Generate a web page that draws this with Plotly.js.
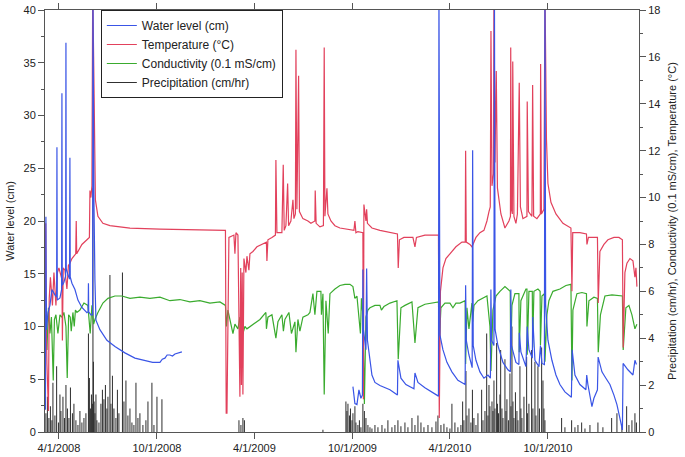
<!DOCTYPE html>
<html>
<head>
<meta charset="utf-8">
<script src="https://cdn.plot.ly/plotly-3.0.1.min.js"></script>
<style>html,body{margin:0;padding:0;background:#fff;}#chart{width:685px;height:457px;}</style>
</head>
<body>
<div id="chart"></div>
<script>
// Time is given as days after 4/1/2008
const baseDate = '2008-04-01';

const tickDates = ['2008-04-01','2008-10-01','2009-04-01','2009-10-01','2010-04-01','2010-10-01'];
const tickLabels = ['4/1/2008','10/1/2008','4/1/2009','10/1/2009','4/1/2010','10/1/2010'];

// Water level (cm), left axis; null = no record
const wlDays = [-25.2,-24.3,-23.3,-20.5,-16.8,-13.1,-7.5,-4.3,-3.7,-3.1,1.9,5.0,5.6,6.2,9.3,12.5,13.1,13.7,16.8,19.9,20.5,21.1,24.3,29.9,35.5,42.9,52.3,54.6,55.1,55.6,59.7,62.9,63.5,64.1,65.3,67.2,69.1,76.5,89.6,104.6,123.2,141.9,160.6,175,188.6,193,197.9,202,207.2,212,216.6,222,229.6,
  400,
  548.9,552.6,556.4,560.1,563.8,566.6,567.5,568.5,573.2,574.5,576.0,580.7,584.4,590.0,599.3,618.0,632.0,632.9,638.5,647.8,662.8,664.7,670.3,683.3,696.4,708.6,709.5,710.8,711.3,716.9,724.4,733.7,744.9,758.4,759.3,760.5,765.5,771.5,772.4,773.5,778.6,786.0,793.5,801.0,805.6,806.5,807.7,812.1,813.1,814.4,819.6,829.0,838.3,842.8,843.7,844.8,853.2,858.8,859.5,862.5,871.9,874.3,877.5,883.8,884.6,888.7,896.2,899.0,901.8,906.4,907.4,908.7,910.2,913.0,920.4,927.9,935.4,944.7,956.8,958.2,963.4,972.7,983.9,985.4,987.6,991.4,995.1,998.8,1005.4,1006.7,1013.8,1021.2,1028.7,1036.2,1041.8,1047.4,1052.0,1053.3,1062.3,1071.7,1075.4,1078.2];
const wlValues = [2.1,20.4,9.7,11.3,12.0,13.5,13.0,12.8,27.0,12.5,12.7,13.5,32.1,13.9,14.2,14.8,36.9,15.5,14.9,14.5,26.0,14.7,14.1,13.5,12.5,11.8,11.3,11.4,14.1,11.4,11.1,11.1,42,25,22.3,14.4,10.6,9.7,8.7,8.1,7.5,7.0,6.8,6.6,6.6,6.9,7.0,7.3,7.3,7.2,7.4,7.5,7.6,
  null,
  4.3,2.7,2.6,4.0,3.2,3.5,15.4,9.7,7.8,15.5,8.7,6.8,5.4,4.7,4.4,4.0,3.5,6.8,5.1,4.5,4.1,5.6,4.7,4.2,3.8,3.4,42,12,9.2,7.8,6.6,5.7,4.9,4.5,13.9,8.7,7.3,6.1,26.7,8.2,6.8,5.7,5.1,5.4,5.1,13.5,8.7,8.2,42,9.7,8.2,6.6,5.9,5.7,13.5,8.2,6.6,6.4,9.4,7.6,6.2,10.0,7.8,7.0,10.9,6.8,6.2,8.2,6.5,6.4,42,12,10.6,8.7,6.8,5.4,4.5,3.8,3.3,7.8,5.4,4.5,4.0,5.4,4.5,3.5,2.4,3.2,4.0,7.1,5.7,5.1,4.5,3.5,2.6,1.3,0.2,6.5,5.9,5.4,6.8,6.4];

// Temperature (°C), right axis
const tempDays = [-26.1,-24.6,-23.7,-22.4,-19.6,-18.1,-15.9,-12.1,-9.3,-5.6,-2.8,0,5.6,6.5,8.0,11.2,14.9,17.7,20.5,24.3,31.4,32.3,33.2,42.9,52.3,56.9,57.9,59.7,61.6,63.1,64.8,66.3,68.1,72.8,82.1,95.2,132.6,188.6,263.2,310.9,312.3,313.7,317.4,326.7,328.6,330.5,334.2,337.9,339.4,340.7,342.2,343.5,345.4,349.1,351.0,354.7,356.6,362.2,369.7,379.0,387.4,388.3,390.2,397.7,404.2,405.1,407.0,416.3,418.8,420.6,423.8,427.0,428.8,433.1,436.9,438.7,441.5,442.5,444.3,447.5,449.0,455.5,464.9,470.5,477.9,478.5,480.2,487.3,493.8,495.3,496.6,500.4,502.2,507.8,515.3,524.6,543.3,550.8,552.6,554.5,558.2,567.5,568.5,569.4,573.2,574.5,576.0,584.4,599.3,618.0,632.0,633.5,635.7,644.1,660.9,664.7,667.5,683.3,708.6,710.1,712.3,717.0,722.5,730.0,741.2,752.4,758.6,759.3,760.5,767.4,771.1,778.6,786.0,793.5,799.1,802.9,805.3,806.6,808.5,811.3,812.2,814.1,816.5,818.7,825.2,832.7,840.2,843.0,843.5,844.8,846.5,847.3,849.5,853.2,856.0,859.4,861.6,866.3,873.8,874.3,876.6,883.1,884.4,886.3,892.4,898.8,899.3,900.8,905.5,907.4,910.2,913.0,918.6,927.9,941.0,955.9,957.8,959.3,972.7,984.9,985.8,988.6,998.8,1005.4,1006.9,1010.0,1017.5,1025.0,1036.2,1045.5,1052.0,1053.5,1056.7,1060.5,1066.1,1071.7,1075.4,1077.3,1079.1];
const tempValues = [5.6,8.9,4.8,2.9,0.9,5.7,6.6,5.4,6.8,5.4,6.8,7.0,6.5,3.9,7.0,6.9,6.1,7.1,7.2,7.4,7.6,9.0,7.6,8.0,8.2,8.3,10.3,10.0,10.5,19,16.0,12.0,9.9,9.2,8.9,8.8,8.7,8.65,8.6,8.6,0.8,0.8,8.3,8.4,7.6,8.5,8.4,1.5,7.0,2.0,6.8,1.6,7.4,6.8,7.5,6.9,7.6,7.7,7.9,8.0,8.1,7.3,8.2,8.3,8.4,11.6,8.5,8.5,11.4,8.6,8.8,10.6,8.8,9.0,9.9,9.1,9.3,16.3,9.5,15.2,9.4,9.1,9.0,8.9,9.0,10.3,8.9,8.75,8.8,16.4,9.2,10.4,9.3,9.0,8.8,8.7,8.65,8.6,9.0,8.5,8.55,8.5,1.4,9.7,9.0,9.5,8.9,8.7,8.6,8.5,8.45,7.0,8.2,8.3,8.3,7.9,8.3,8.4,8.4,0.6,6.0,7.0,7.4,7.6,7.9,8.1,8.1,12.0,8.1,8.0,7.9,8.3,8.5,8.6,9.0,9.4,9.6,17.1,10.5,11,19,11.5,15.4,10.4,9.3,8.7,9.0,9.2,16.4,9.5,9.3,15.8,9.2,8.9,9.3,14.9,9.6,9.1,9.2,14.1,9.4,9.2,14.8,9.2,9.1,9.3,15.7,9.3,9.5,19,12.5,10.6,9.8,9.3,8.9,8.7,6.0,8.5,8.5,8.45,8.0,8.3,8.3,8.3,5.5,7.7,8.0,8.2,8.3,8.3,8.2,3.6,6.8,7.2,7.4,7.3,6.6,7.0,6.2];

// Conductivity (0.1 mS/cm), right axis
const condDays = [-26.1,-24.3,-22.4,-19.6,-16.8,-14.0,-10.6,-8.4,-5.6,-1.9,1.9,5.6,9.3,13.1,15.5,18.1,21.1,23.0,26.1,28.6,30.8,33.6,39.2,46.7,54.1,58.4,61.6,64.8,67.2,72.8,82.1,91.5,104.6,117.6,132.6,151.2,169.9,188.6,207.2,225.9,244.6,263.2,281.9,300.6,310.9,312.7,315.5,319.3,324.9,328.6,334.2,337.9,340.7,343.5,347.2,351.0,356.6,364.1,375.3,386.4,387.4,390.2,397.7,405.1,408.9,416.3,419.1,421.9,429.4,434.1,440.6,442.5,446.2,449.9,455.5,464.9,468.6,474.2,477.9,481.7,489.1,490.1,492.9,495.3,498.5,502.8,506.0,515.3,524.6,534.0,543.3,548.9,552.6,556.4,562.9,564.8,567.5,570.3,573.2,576.9,580.7,590.0,599.3,602.1,606.8,618.0,631.1,633.5,638.5,646.0,659.1,664.7,670.3,683.3,696.4,708.6,710.1,713.2,720.7,730.0,735.6,741.2,748.7,758.4,759.3,761.8,765.5,771.1,772.4,774.9,782.3,791.7,799.1,804.7,806.6,810.3,815.9,823.4,832.7,842.6,843.4,845.8,851.4,858.8,859.4,862.5,871.9,873.8,874.3,877.5,883.8,884.4,886.8,894.3,898.4,899.0,901.8,906.4,907.4,911.1,914.8,922.3,935.4,946.6,955.9,957.8,959.6,967.1,976.4,984.9,985.8,989.5,998.8,1005.4,1006.9,1011.0,1019.4,1032.5,1045.5,1052.0,1053.5,1058.5,1064.2,1069.8,1075.4,1079.1];
const condValues = [4.3,5.0,3.5,5.3,4.2,4.9,2.2,4.8,5.0,4.2,5.0,4.9,5.1,4.5,2.3,5.0,4.9,4.3,5.1,4.5,5.2,5.1,5.2,5.5,5.4,4.2,5.4,4.6,4.8,5.1,5.5,5.7,5.8,5.8,5.7,5.75,5.7,5.75,5.6,5.65,5.55,5.6,5.5,5.55,5.4,4.5,5.2,4.8,4.2,4.6,4.4,4.9,4.2,4.2,4.5,4.4,4.5,4.6,4.8,5.1,4.4,4.9,5.0,4.0,4.7,5.0,4.3,4.8,5.1,4.2,4.7,3.4,4.8,4.3,4.9,5.0,5.1,5.9,5.0,6.0,6.0,5.0,5.9,1.6,5.6,4.2,5.9,6.1,6.25,6.3,6.3,6.2,5.7,5.8,4.2,5.7,5.0,1.2,4.9,5.2,5.3,5.4,5.4,5.2,5.35,5.5,5.6,3.1,5.3,5.4,5.55,3.8,5.3,5.45,5.5,5.55,3.8,5.3,5.5,5.5,5.3,5.5,5.5,5.6,2.9,5.3,4.4,5.5,4.7,5.4,5.6,5.7,5.8,4.5,2.6,5.2,5.8,6.0,6.2,6.0,3.1,5.4,5.9,5.9,3.4,5.6,6.1,6.1,3.3,6.0,6.0,3.6,6.0,6.1,6.0,3.7,5.8,5.9,3.0,5.0,5.6,6.0,6.1,6.25,6.3,2.2,5.2,5.9,5.95,5.9,4.5,5.6,5.75,5.7,3.4,5.0,5.8,5.85,5.8,5.8,3.5,5.3,5.4,5.0,4.4,4.6];

// Precipitation (cm/hr), right axis
const precipDays = [-24.3,-21.5,-18.7,-15.9,-13.1,-11.2,-7.5,-4.3,-0.9,1.9,3.7,7.5,10.3,13.1,15.9,18.7,21.5,25.2,28.0,31.7,35.5,39.2,42.9,46.7,50.4,55.1,56.9,58.8,60.7,62.5,63.5,64.4,65.7,67.2,69.1,70.9,74.7,78.4,81.2,84.0,86.8,89.6,91.5,95.2,97.1,99.9,102.7,106.4,109.2,112.0,118.6,121.4,125.1,128.8,132.6,136.3,140.0,143.8,147.5,151.2,156.8,162.4,166.2,173.6,177.4,183.0,192.3,336.1,339.8,343.5,346.3,492.9,535.8,537.7,539.6,542.4,544.3,547.1,548.9,552.6,554.5,558.2,561.0,563.8,567.5,570.3,573.2,576.9,580.7,584.4,590.0,595.6,603.1,608.6,614.2,621.7,627.3,632.9,638.5,646.0,651.6,659.1,664.7,670.3,675.9,681.5,689.0,696.4,703.9,707.6,713.2,718.8,724.4,730.0,733.7,739.3,744.9,750.5,753.7,756.1,759.9,761.8,765.5,769.2,772.0,774.8,778.6,782.3,789.2,791.7,795.4,798.6,801.0,802.9,804.7,808.5,810.3,812.2,814.1,817.2,818.7,820.6,823.4,824.7,827.1,829.0,832.7,834.6,836.4,839.2,842.0,843.9,845.8,847.7,849.5,852.3,855.1,857.0,860.7,862.5,864.4,868.2,873.2,874.7,877.5,882.5,884.9,888.7,890.6,894.3,897.1,901.2,903.7,905.5,907.4,938.5,944.7,957.2,963.4,969.0,975.9,982.1,991.4,1006.3,1015.6,1031.9,1041.8,1051.1,1059.9,1064.2,1069.8,1075.4,1078.2];
const precipValues = [0.8,1.5,0.6,1.1,0.5,2.1,0.7,2.8,0.4,1.6,0.9,1.5,0.6,2.0,1.0,0.6,1.9,0.8,1.2,0.5,0.3,0.9,0.4,0.6,0.8,4.2,2.3,1.0,1.6,1.2,10.4,3.0,1.3,0.8,1.6,0.5,0.4,1.2,1.8,1.4,2.0,1.0,1.5,6.7,1.2,2.4,1.0,0.6,1.8,0.8,6.8,1.3,2.2,0.7,1.0,0.4,0.3,2.1,0.6,0.8,0.3,0.5,1.3,2.1,0.3,1.5,1.4,0.5,0.3,0.6,0.5,0.1,1.3,0.9,1.2,0.7,1.0,0.5,0.8,1.1,0.4,0.3,0.5,0.2,1.2,0.9,0.6,0.3,0.2,0.15,0.3,0.2,0.3,0.15,0.5,0.2,0.3,0.5,0.25,0.4,0.2,0.6,0.3,0.7,0.4,0.2,0.3,0.2,0.45,0.7,0.3,0.35,0.2,0.15,1.2,0.4,0.2,0.3,1.3,0.5,2.6,0.7,1.0,0.4,1.8,0.6,0.3,0.8,1.8,0.5,0.9,4.2,0.7,2.0,1.1,1.3,0.9,2.2,1.0,3.8,1.2,0.8,1.6,3.5,1.0,0.6,3.1,0.9,1.4,0.5,2.5,1.1,4.5,1.3,0.6,1.7,0.9,0.5,2.8,1.0,0.6,1.5,3.2,0.8,1.2,3.5,1.0,3.0,0.7,2.8,1.0,3.6,2.2,1.0,0.5,0.6,0.2,0.5,0.2,0.3,0.4,0.15,0.3,0.4,0.2,0.6,0.8,0.3,1.1,0.3,0.5,0.8,0.4];

const DAY = 86400000;
const base = Date.parse(baseDate + 'T00:00:00Z');
function toDate(d) { return new Date(base + d * DAY).toISOString().slice(0, 19).replace('T', ' '); }

const FONT = 'Arial, "Liberation Sans", sans-serif';
const C_WL = '#3a55e6', C_T = '#e2415c', C_C = '#3aab2e', C_P = '#303030';

const traces = [
  { type: 'bar', name: 'Precipitation (cm/hr)', x: precipDays.map(toDate), y: precipValues,
    width: 1.9 * DAY, marker: { color: C_P, line: { width: 0 } }, yaxis: 'y', showlegend: false },
  { type: 'scatter', mode: 'lines', name: 'Conductivity (0.1 mS/cm)', x: condDays.map(toDate), y: condValues,
    line: { color: C_C, width: 1.2 }, yaxis: 'y', legendrank: 3 },
  { type: 'scatter', mode: 'lines', name: 'Temperature (\u00B0C)', x: tempDays.map(toDate), y: tempValues,
    line: { color: C_T, width: 1.2 }, yaxis: 'y', legendrank: 2 },
  { type: 'scatter', mode: 'lines', name: 'Precipitation (cm/hr)', x: [null], y: [null],
    line: { color: C_P, width: 1.2 }, yaxis: 'y', legendrank: 4 },
  { type: 'scatter', mode: 'lines', name: 'Water level (cm)', x: wlDays.map(toDate), y: wlValues,
    line: { color: C_WL, width: 1.2 }, yaxis: 'y2', connectgaps: false, legendrank: 1 }
];

const axisCommon = { showgrid: false, zeroline: false, showline: true, linecolor: '#555', linewidth: 1,
  ticks: 'outside', tickcolor: '#555', ticklen: 6, tickfont: { family: FONT, size: 11, color: '#222' } };

const layout = {
  width: 685, height: 457,
  margin: { l: 45, r: 46, t: 10, b: 25, pad: 0 },
  paper_bgcolor: '#fff', plot_bgcolor: '#fff',
  font: { family: FONT, size: 11, color: '#222' },
  showlegend: true,
  legend: { x: 0.094, y: 1, xanchor: 'left', yanchor: 'top', bgcolor: '#fff', bordercolor: '#222', borderwidth: 1,
    font: { family: FONT, size: 12, color: '#222' }, traceorder: 'normal', tracegroupgap: 0 },
  xaxis: Object.assign({}, axisCommon, { type: 'date', range: [toDate(-26), toDate(1083)],
    tickvals: tickDates, ticktext: tickLabels, mirror: 'ticks' }),
  yaxis: Object.assign({}, axisCommon, { side: 'right', range: [0, 18], dtick: 2, tick0: 0,
    minor: { dtick: 1, ticks: 'outside', ticklen: 3, tickcolor: '#555' },
    title: { text: 'Precipitation (cm/hr), Conductivity (0.1 mS/cm), Temperature (\u00B0C)', font: { family: FONT, size: 11, color: '#222' }, standoff: 8 } }),
  yaxis2: Object.assign({}, axisCommon, { overlaying: 'y', side: 'left', range: [0, 40], dtick: 5, tick0: 0,
    minor: { dtick: 2.5, ticks: 'outside', ticklen: 3, tickcolor: '#555' },
    title: { text: 'Water level (cm)', font: { family: FONT, size: 11, color: '#222' }, standoff: 6 } }),
  hovermode: false
};

Plotly.newPlot('chart', traces, layout, { staticPlot: true, displayModeBar: false });
</script>
</body>
</html>
